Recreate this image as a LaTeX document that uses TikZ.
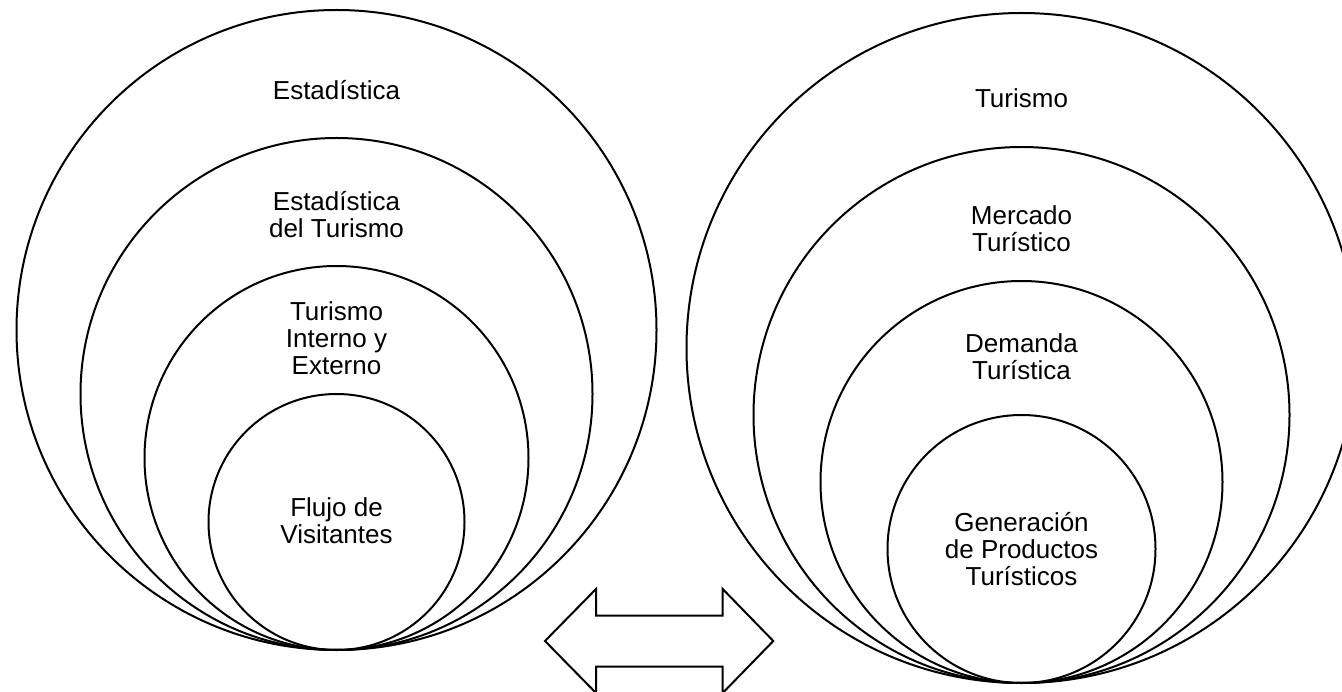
\documentclass[tikz,border=0pt]{standalone}
\usepackage{fontspec}
\setmainfont{Liberation Sans}
\usetikzlibrary{shapes,calc}

\begin{document}
\begin{tikzpicture}[x=1pt,y=-1pt]
    \newcommand{\ring}[4]{\node[ring,minimum size=#4] (#1) at (#2,#3) {};}

    \tikzstyle{ring}=[
      circle,
      draw=black,
      line width=2pt,
      inner sep=0pt,
      anchor=center,
    ]
    \tikzstyle{tag}=[align=center,font=\fontsize{26}{27}\selectfont,anchor=center]
    \tikzstyle{twoway}=[line width=2pt,draw=black,line join=miter]

    \useasboundingbox (0,0) rectangle (1342,692);

    % left side
    \ring{est}{336.5}{330}{640}
    \ring{estur}{336.5}{394}{512}
    \ring{interno}{336.5}{458}{384}
    \ring{flujo}{336.5}{522}{256}

    \node[tag] (t-est) at (336.5,90.5) {Estadística};
    \node[tag] (t-estur) at (336.5,215) {Estadística\\del Turismo};
    \node[tag] (t-interno) at (336.5,338) {Turismo\\Interno y\\Externo};
    \node[tag] (t-flujo) at (336.5,521) {Flujo de\\Visitantes};

    % right side
    \ring{tur}{1021.5}{348}{670}
    \ring{mercado}{1021.5}{415}{536}
    \ring{demanda}{1021.5}{482}{402}
    \ring{gen}{1021.5}{549}{268}

    \node[tag] (t-tur) at (1021.5,98) {Turismo};
    \node[tag] (t-mercado) at (1021.5,228.5) {Mercado\\Turístico};
    \node[tag] (t-demanda) at (1021.5,356.5) {Demanda\\Turística};
    \node[tag] (t-gen) at (1021.5,549) {Generación\\de Productos\\Turísticos};

    % double arrow
    \draw[twoway] (545,641) -- (596,589) -- (596,615.7) -- (722.7,615.7) -- (722.7,589)
      -- (773.3,641) -- (722.7,693) -- (722.7,666.7) -- (596,666.7) -- (596,693) -- cycle;
  \end{tikzpicture}
\end{document}
